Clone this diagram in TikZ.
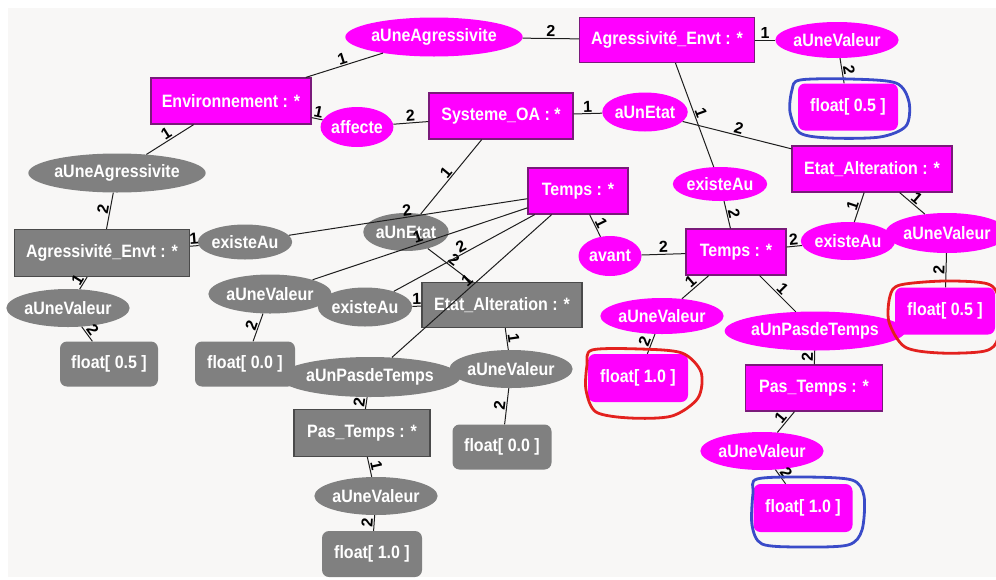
\documentclass[tikz,border=0pt]{standalone}
\usepackage{fontspec}
\setmainfont{Liberation Sans}
\usetikzlibrary{shapes.geometric}
\definecolor{mag}{HTML}{FF00FF}
\definecolor{magborder}{HTML}{7A1A7A}
\definecolor{gry}{HTML}{808080}
\definecolor{gryborder}{HTML}{4A4A4A}
\definecolor{bgc}{HTML}{F8F7F6}
\definecolor{edgec}{HTML}{1E1E1E}
\definecolor{penblue}{HTML}{3A4BC8}
\definecolor{penred}{HTML}{E3211E}
\newcommand{\tx}[1]{\scalebox{1}[1.12]{#1}}
\begin{document}
\begin{tikzpicture}[x=1pt,y=-1pt,
 base/.style={text=white,font=\fontsize{16}{19}\selectfont\bfseries,inner sep=0pt},
 mrect/.style={base,rectangle,fill=mag,draw=magborder,line width=1.2pt},
 grect/.style={base,rectangle,fill=gry,draw=gryborder,line width=1.2pt},
 mell/.style={base,ellipse,fill=mag},
 gell/.style={base,ellipse,fill=gry},
 mval/.style={base,rectangle,rounded corners=7pt,fill=mag},
 gval/.style={base,rectangle,rounded corners=7pt,fill=gry},
 sz/.style 2 args={minimum width=#1pt,minimum height=#2pt},
 link/.style={draw=edgec,line width=1pt},
 lab/.style={midway,sloped,above,inner sep=1pt,font=\fontsize{16}{18}\selectfont\bfseries,text=black},
 pen/.style={line width=2.8pt,line join=round}
]
\useasboundingbox (0,0) rectangle (996,579);
\fill[white] (0,0) rectangle (996,579);
\fill[bgc] (8,8) rectangle (996,577);

% magenta nodes
\node[mell,sz={145}{39}] (mAgrE) at (434,37) {\tx{aUneAgressivite}};
\node[mrect,sz={175}{45}] (mAgrEnv) at (667,40) {\tx{Agressivité\_Envt : *}};
\node[mell,sz={108}{36}] (mVal1) at (837,40) {\tx{aUneValeur}};
\node[mval,sz={100}{47}] (mF1) at (848,107) {\tx{float[ 0.5 ]}};
\node[mrect,sz={160}{46}] (mEnv) at (231,101) {\tx{Environnement : *}};
\node[mell,sz={71}{40}] (mAff) at (357,127) {\tx{affecte}};
\node[mrect,sz={144}{46}] (mSys) at (501,116) {\tx{Systeme\_OA : *}};
\node[mell,sz={73}{39}] (mEtat) at (645,112) {\tx{aUnEtat}};
\node[mrect,sz={160}{46}] (mEA) at (872,169) {\tx{Etat\_Alteration : *}};
\node[mell,sz={84}{34}] (mEx1) at (720,184) {\tx{existeAu}};
\node[mrect,sz={100}{46}] (mT1) at (578,191) {\tx{Temps : *}};
\node[mell,sz={63}{40}] (mAvant) at (610,256) {\tx{avant}};
\node[mrect,sz={100}{46}] (mT2) at (736,252) {\tx{Temps : *}};
\node[mell,sz={85}{38}] (mEx2) at (848,241) {\tx{existeAu}};
\node[mell,sz={104}{40}] (mVal2) at (947,233) {\tx{aUneValeur}};
\node[mval,sz={100}{47}] (mF2) at (945,311) {\tx{float[ 0.5 ]}};
\node[mell,sz={107}{36}] (mVal3) at (662,316) {\tx{aUneValeur}};
\node[mell,sz={153}{39}] (mPas) at (815,331) {\tx{aUnPasdeTemps}};
\node[mval,sz={100}{48}] (mF3) at (638,378) {\tx{float[ 1.0 ]}};
\node[mrect,sz={137}{46}] (mPT) at (814,388) {\tx{Pas\_Temps : *}};
\node[mell,sz={106}{38}] (mVal4) at (762,451) {\tx{aUneValeur}};
\node[mval,sz={99}{48}] (mF4) at (803,508) {\tx{float[ 1.0 ]}};

% gray nodes
\node[gell,sz={146}{39}] (gAgrE) at (117,173) {\tx{aUneAgressivite}};
\node[grect,sz={175}{47}] (gAgrEnv) at (102,253) {\tx{Agressivité\_Envt : *}};
\node[gell,sz={84}{35}] (gEx1) at (245,242) {\tx{existeAu}};
\node[gell,sz={78}{38}] (gEtat) at (406,232) {\tx{aUnEtat}};
\node[gell,sz={107}{38}] (gVal1) at (68,308) {\tx{aUneValeur}};
\node[gval,sz={98}{45}] (gF1) at (109,364) {\tx{float[ 0.5 ]}};
\node[gell,sz={106}{39}] (gVal2) at (270,294) {\tx{aUneValeur}};
\node[gval,sz={100}{45}] (gF2) at (245,364) {\tx{float[ 0.0 ]}};
\node[gell,sz={86}{39}] (gEx2) at (365,307) {\tx{existeAu}};
\node[grect,sz={160}{45}] (gEA) at (502,305) {\tx{Etat\_Alteration : *}};
\node[gell,sz={142}{40}] (gPas) at (370,377) {\tx{aUnPasdeTemps}};
\node[gell,sz={104}{38}] (gVal3) at (511,369) {\tx{aUneValeur}};
\node[gval,sz={99}{45}] (gF3) at (502,447) {\tx{float[ 0.0 ]}};
\node[grect,sz={136}{47}] (gPT) at (362,433) {\tx{Pas\_Temps : *}};
\node[gell,sz={107}{38}] (gVal4) at (376,496) {\tx{aUneValeur}};
\node[gval,sz={100}{46}] (gF4) at (372,554) {\tx{float[ 1.0 ]}};

% magenta edges
\draw[link] (mEnv) -- node[lab]{1} (mAgrE);
\draw[link] (mAgrE) -- node[lab]{2} (mAgrEnv);
\draw[link] (mAgrEnv) -- node[lab]{1} (mVal1);
\draw[link] (mVal1) -- node[lab]{2} (mF1);
\draw[link] (mEnv) -- node[lab]{1} (mAff);
\draw[link] (mAff) -- node[lab]{2} (mSys);
\draw[link] (mSys) -- node[lab]{1} (mEtat);
\draw[link] (mEtat) -- node[lab]{2} (mEA);
\draw[link] (mAgrEnv) -- node[lab]{1} (mEx1);
\draw[link] (mEx1) -- node[lab]{2} (mT2);
\draw[link] (mT1) -- node[lab]{1} (mAvant);
\draw[link] (mAvant) -- node[lab]{2} (mT2);
\draw[link] (mEA) -- node[lab]{1} (mEx2);
\draw[link] (mEx2) -- node[lab]{2} (mT2);
\draw[link] (mEA) -- node[lab]{1} (mVal2);
\draw[link] (mVal2) -- node[lab]{2} (mF2);
\draw[link] (mT2) -- node[lab]{1} (mVal3);
\draw[link] (mVal3) -- node[lab]{2} (mF3);
\draw[link] (mT2) -- node[lab]{1} (mPas);
\draw[link] (mPas) -- node[lab]{2} (mPT);
\draw[link] (mPT) -- node[lab]{1} (mVal4);
\draw[link] (mVal4) -- node[lab]{2} (mF4);

% gray edges
\draw[link] (mEnv) -- node[lab]{1} (gAgrE);
\draw[link] (gAgrE) -- node[lab]{2} (gAgrEnv);
\draw[link] (gAgrEnv) -- node[lab]{1} (gEx1);
\draw[link] (gEx1) -- node[lab]{2} (mT1);
\draw[link] (gAgrEnv) -- node[lab]{1} (gVal1);
\draw[link] (gVal1) -- node[lab]{2} (gF1);
\draw[link] (mSys) -- node[lab]{1} (gEtat);
\draw[link] (gEtat) -- node[lab]{2} (gEA);
\draw[link] (mT1) -- node[lab]{1} (gVal2);
\draw[link] (gVal2) -- node[lab]{2} (gF2);
\draw[link] (gEA) -- node[lab]{1} (gEx2);
\draw[link] (gEx2) -- node[lab]{2} (mT1);
\draw[link] (mT1) -- node[lab]{1} (gPas);
\draw[link] (gPas) -- node[lab]{2} (gPT);
\draw[link] (gPT) -- node[lab]{1} (gVal4);
\draw[link] (gVal4) -- node[lab]{2} (gF4);
\draw[link] (gEA) -- node[lab]{1} (gVal3);
\draw[link] (gVal3) -- node[lab]{2} (gF3);

% hand-drawn marks
\draw[pen,penblue] plot[smooth cycle] coordinates {(800,80) (850,79) (896,83) (909,102) (906,126) (880,137) (830,138) (800,133) (790,112) (792,90)};
\draw[pen,penred] plot[smooth cycle] coordinates {(900,285) (945,281) (988,284) (999,300) (998,338) (985,351) (940,353) (905,347) (889,322) (890,296)};
\draw[pen,penred] plot[smooth cycle] coordinates {(592,350) (640,349) (682,353) (701,372) (698,398) (672,416) (630,418) (596,412) (586,390) (587,365)};
\draw[pen,penblue] plot[smooth cycle] coordinates {(757,479) (805,477) (852,480) (864,496) (862,530) (848,545) (800,547) (762,544) (752,525) (753,493)};
\end{tikzpicture}
\end{document}
